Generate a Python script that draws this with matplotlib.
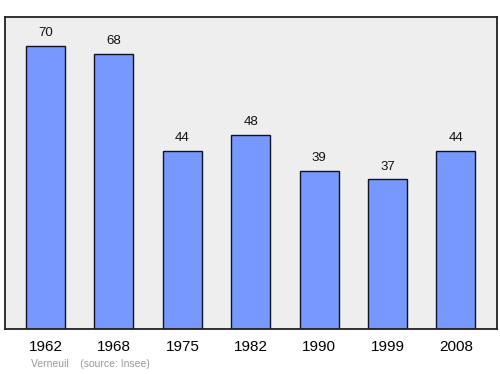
"""Population bar chart for Verneuil."""

import matplotlib

matplotlib.use("Agg")
import matplotlib.pyplot as plt

years = ["1962", "1968", "1975", "1982", "1990", "1999", "2008"]
population = [70, 68, 44, 48, 39, 37, 44]

plt.rcParams["font.family"] = ["Liberation Sans", "DejaVu Sans"]

fig = plt.figure(figsize=(5, 3.74), dpi=100)
ax = fig.add_axes([0.01, 0.1203, 0.984, 0.8342])
ax.set_facecolor("#eeeeee")

x = range(len(years))
bars = ax.bar(x, population, width=0.57, color="#7799ff", edgecolor="#111122", linewidth=1.0)

# value labels above each bar
for xi, val in zip(x, population):
    ax.annotate(str(val), (xi, val), xytext=(0, 5), textcoords="offset points",
                ha="center", va="bottom", fontsize=9.5, color="#111111")

ax.set_xlim(-0.592, 6.6)
ax.set_ylim(0, 77.2)
ax.set_xticks(list(x))
ax.set_xticklabels(years, fontsize=11)
ax.tick_params(axis="x", length=0, pad=8)
ax.set_yticks([])

for spine in ax.spines.values():
    spine.set_linewidth(1.3)
    spine.set_color("#222222")

fig.text(0.062, 0.02, "Verneuil    (source: Insee)", fontsize=7.5, color="#999999")

fig.savefig("out.png", dpi=100)
